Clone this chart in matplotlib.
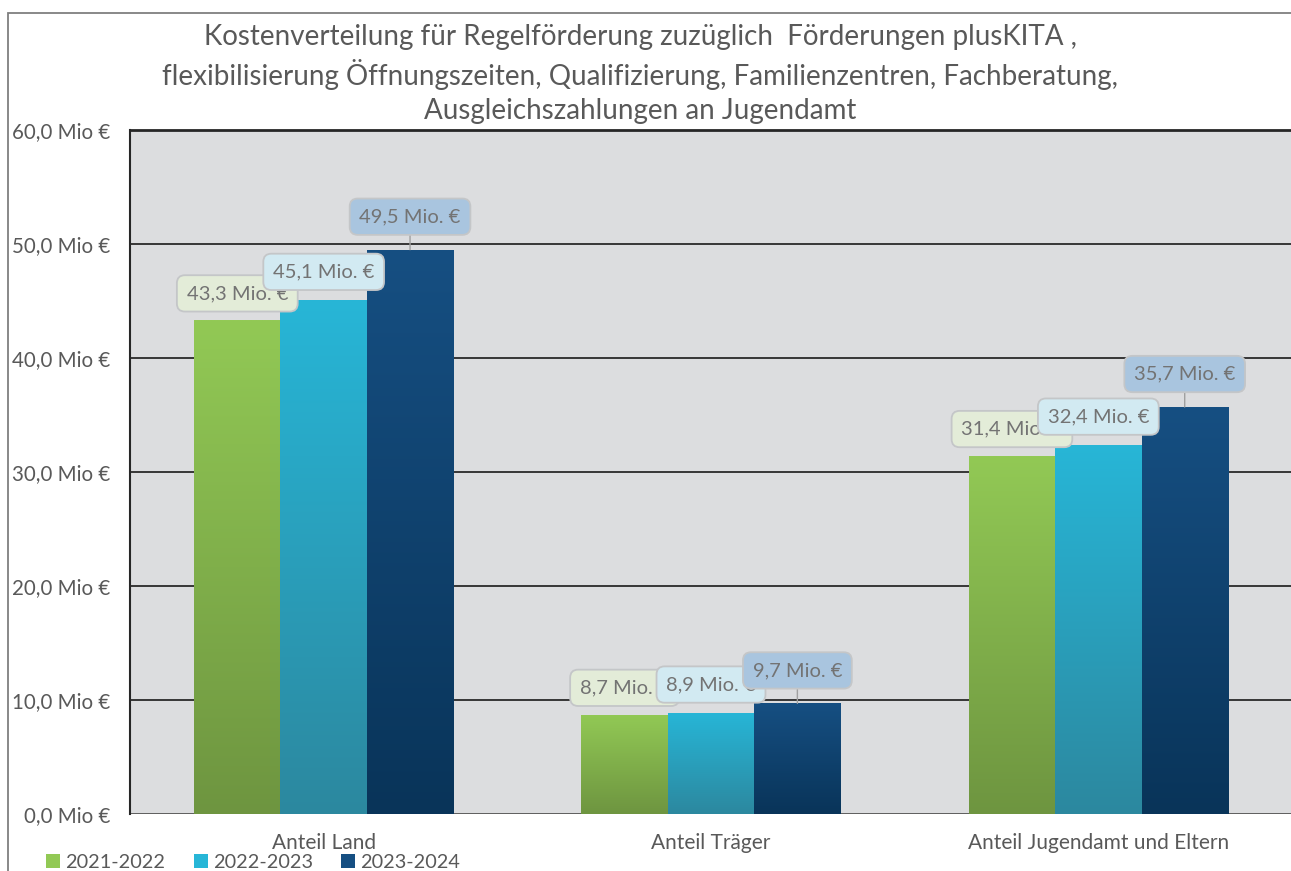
import numpy as np
import matplotlib
matplotlib.use("Agg")
import matplotlib.pyplot as plt
from matplotlib.colors import LinearSegmentedColormap
from matplotlib.patches import Rectangle

plt.rcParams['font.family'] = ['Lato', 'DejaVu Sans']

# Data
categories = ['Anteil Land', 'Anteil Träger', 'Anteil Jugendamt und Eltern']
series = ['2021-2022', '2022-2023', '2023-2024']
v_2021 = [43.3, 8.7, 31.4]
v_2022 = [45.1, 8.9, 32.4]
v_2023 = [49.5, 9.7, 35.7]
values = [v_2021, v_2022, v_2023]
yticks = [0, 10, 20, 30, 40, 50, 60]
ytick_labels = ['0,0 Mio €', '10,0 Mio €', '20,0 Mio €', '30,0 Mio €',
                '40,0 Mio €', '50,0 Mio €', '60,0 Mio €']
title = ('Kostenverteilung für Regelförderung zuzüglich  Förderungen plusKITA ,\n'
         'flexibilisierung Öffnungszeiten, Qualifizierung, Familienzentren, Fachberatung,\n'
         'Ausgleichszahlungen an Jugendamt')

# styles
top_colors = ['#92c955', '#27b6d7', '#164f82']
bot_colors = ['#6e9540', '#2c889f', '#093459']
box_colors = ['#e3ecd8', '#d2eaf2', '#a9c5df']
label_offsets = [27, 28, 33]  # pixels above bar top
text_gray = '#737373'

W, H = 1291, 871
fig = plt.figure(figsize=(W / 100, H / 100), dpi=100)
ax = fig.add_axes([130 / W, 1 - 814 / H, 1162 / W, 684 / H])
ax.set_facecolor('#dcdddf')

# outer chart border
fig.patches.append(Rectangle((8 / W, -0.1), 1.2, 1 - 13 / H + 0.1,
                             transform=fig.transFigure, fill=False,
                             edgecolor='#7f7f7f', linewidth=1.3, zorder=0))

x = np.arange(len(categories))
bw = 0.223
for i, vals in enumerate(values):
    cmap = LinearSegmentedColormap.from_list('g%d' % i, [bot_colors[i], top_colors[i]])
    bars = ax.bar(x + (i - 1) * bw, vals, bw, color=top_colors[i], zorder=3,
                  label=series[i], linewidth=0)
    for b in bars:
        x0, w, h = b.get_x(), b.get_width(), b.get_height()
        grad = np.linspace(0, 1, 256).reshape(-1, 1)
        im = ax.imshow(grad, cmap=cmap, origin='lower', aspect='auto',
                       extent=[x0, x0 + w, 0, h], zorder=3.5)
        im.set_clip_path(b)

for i, vals in enumerate(values):
    for j, v in enumerate(vals):
        xc = x[j] + (i - 1) * bw
        ax.annotate(f'{v:.1f} Mio. €'.replace('.', ',', 1),
                    xy=(xc, v), xytext=(0, label_offsets[i] * 0.72),
                    textcoords='offset points', ha='center', va='center',
                    fontsize=14.5, color=text_gray, zorder=10 + i,
                    bbox=dict(boxstyle='round,pad=0.48,rounding_size=0.4',
                              fc=box_colors[i], ec='#c4c6c8', lw=1.3),
                    arrowprops=dict(arrowstyle='-', color='#a0a0a0', lw=1,
                                    shrinkA=0, shrinkB=0) if i == 2 else None,
                    annotation_clip=False)

ax.set_xlim(-0.5, 2.5)
ax.set_ylim(0, 60)
ax.set_yticks(yticks)
ax.set_yticklabels(ytick_labels, fontsize=14.8, color='#595959')
ax.set_xticks(x)
ax.set_xticklabels(categories, fontsize=15, color='#595959')
ax.tick_params(axis='both', length=0)
ax.tick_params(axis='y', pad=14)
ax.tick_params(axis='x', pad=14)
ax.grid(axis='y', color='#1a1a1a', linewidth=1.2, zorder=1)
ax.set_axisbelow(True)
for s in ['right', 'bottom']:
    ax.spines[s].set_visible(False)
ax.spines['left'].set_color('#262626')
ax.spines['left'].set_linewidth(1.5)
ax.spines['top'].set_color('#262626')
ax.spines['top'].set_linewidth(2)
ax.axhline(0, color='#6a6a6a', linewidth=1.2, zorder=2)

fig.text(640 / W, 1 - 74 / H, title, ha='center', va='center', fontsize=20,
         color='#595959', linespacing=1.36)

leg = fig.legend(loc='center left', bbox_to_anchor=(46 / W, 1 - 862 / H), ncol=3,
                 frameon=False, fontsize=14.3, handlelength=0.7, handleheight=0.7,
                 handletextpad=0.25, columnspacing=1.45, labelcolor='#595959',
                 borderpad=0, borderaxespad=0)

fig.savefig('out.png', dpi=100)
